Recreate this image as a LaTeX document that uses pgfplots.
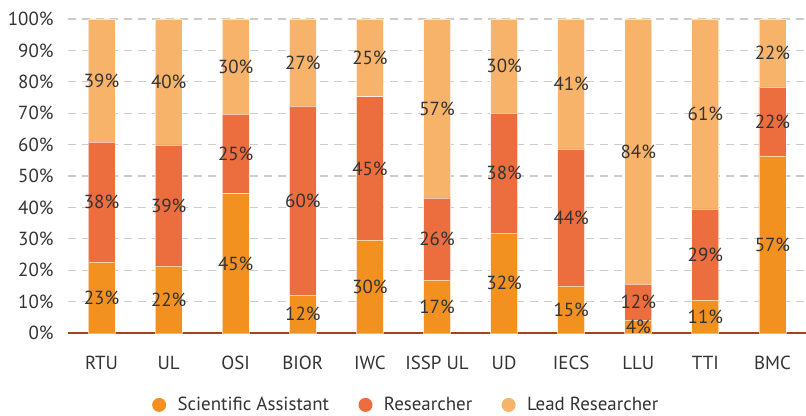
\documentclass[border=0pt]{standalone}
\usepackage{fontspec}
\setmainfont{PT Sans}
\usepackage{pgfplots}
\pgfplotsset{compat=1.18}
\usepackage{pgfplotstable}
\definecolor{ca}{HTML}{F29120}
\definecolor{cb}{HTML}{EC6D3D}
\definecolor{cc}{HTML}{F8B36A}
\definecolor{axl}{HTML}{A8401E}
\definecolor{grd}{HTML}{D3CBC3}
\definecolor{txt}{HTML}{333333}
\pgfplotstableread{
x a b c la lb lc
0 22.6 38.2 39.2 23 38 39
1 21.3 38.6 40.1 22 39 40
2 44.3 25.4 30.3 45 25 30
3 12.1 60.2 27.7 12 60 27
4 29.6 45.6 24.8 30 45 25
5 16.9 26.1 57.0 17 26 57
6 31.8 38.2 30.0 32 38 30
7 15.0 43.6 41.4 15 44 41
8 4.1 11.5 84.4 4 12 84
9 10.5 29.0 60.5 11 29 61
10 56.4 21.9 21.7 57 22 22
}\data
\begin{document}
\begin{tikzpicture}[font=\fontsize{19}{23}\selectfont]
\path[use as bounding box] (-68bp,-83bp) rectangle (738bp,333bp);
\begin{axis}[at={(0,0)}, anchor=south west, scale only axis,
  width=738bp, height=314bp,
  ybar stacked, bar width=27bp,
  xmin=-0.5, xmax=10.5, ymin=0, ymax=100,
  xtick={0,...,10},
  xticklabels={RTU,UL,OSI,BIOR,IWC,ISSP UL,UD,IECS,LLU,TTI,BMC},
  ytick={0,10,...,100},
  yticklabel={\pgfmathprintnumber{\tick}\%},
  /pgf/number format/assume math mode=true,
  major tick length=0pt,
  tick style={draw=none},
  ticklabel style={text=txt},
  yticklabel style={xshift=-11bp},
  xticklabel style={yshift=-20bp},
  axis x line*=bottom, axis y line*=left,
  y axis line style={draw=none},
  x axis line style={draw=axl, line width=1.3bp, -},
  ymajorgrids, grid style={draw=grd, line width=1.3bp, dash pattern=on 8bp off 6bp},
  legend style={at={(0.458,-0.229)}, anchor=center, draw=none, legend columns=3,
    /tikz/every even column/.append style={column sep=27bp}, text=txt},
  legend image code/.code={\fill[#1, draw=none] (0bp,0bp) circle (7bp); \path (-7bp,0bp) (16bp,0bp);},
  every node near coord/.append style={text=txt, anchor=center},
]
\addplot[fill=ca, draw=white, draw opacity=0.6, line width=0.8bp, point meta=explicit symbolic,
  nodes near coords={\pgfplotspointmeta\%}]
  table[x=x, y=a, meta=la] {\data};
\addplot[fill=cb, draw=white, draw opacity=0.6, line width=0.8bp, point meta=explicit symbolic,
  nodes near coords={\pgfplotspointmeta\%}]
  table[x=x, y=b, meta=lb] {\data};
\addplot[fill=cc, draw=white, draw opacity=0.6, line width=0.8bp, point meta=explicit symbolic,
  nodes near coords={\pgfplotspointmeta\%}]
  table[x=x, y=c, meta=lc] {\data};
\legend{Scientific Assistant, Researcher, Lead Researcher}
\end{axis}
\end{tikzpicture}
\end{document}
